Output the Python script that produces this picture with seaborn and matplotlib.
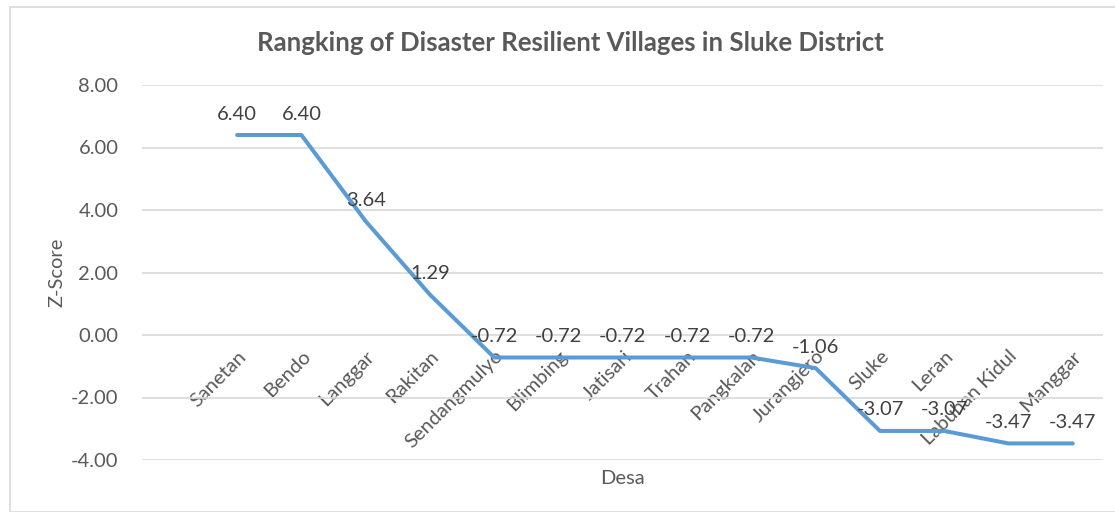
import matplotlib
matplotlib.use("Agg")
import matplotlib.pyplot as plt
import seaborn as sns
import pandas as pd
from matplotlib.patches import Rectangle

# Village ranking data (Z-score)
desa = ["Sanetan", "Bendo", "Langgar", "Rakitan", "Sendangmulyo", "Blimbing",
        "Jatisari", "Trahan", "Pangkalan", "Jurangjero", "Sluke", "Leran",
        "Labuhan Kidul", "Manggar"]
z_score = [6.40, 6.40, 3.64, 1.29, -0.72, -0.72, -0.72, -0.72, -0.72,
           -1.06, -3.07, -3.07, -3.47, -3.47]
y_ticks = [-4, -2, 0, 2, 4, 6, 8]

df = pd.DataFrame({"Desa": desa, "Z-Score": z_score})

sns.set_style("white")
plt.rcParams["font.family"] = ["Lato", "DejaVu Sans"]
text_color = "#595959"
fs = 14.5

fig = plt.figure(figsize=(11.15, 5.12), dpi=100)
ax = fig.add_axes([142 / 1115, 52 / 512, (1103 - 142) / 1115, (460 - 85) / 512])

# chart border
fig.patches.append(Rectangle((10 / 1115, 0), 1.2, 505 / 512, transform=fig.transFigure,
                             fill=False, edgecolor="#D9D9D9", linewidth=1.2))

df["pos"] = range(len(df))
sns.lineplot(data=df, x="pos", y="Z-Score", ax=ax, color="#5B9BD5",
             linewidth=2.9, sort=False)

for i, v in enumerate(z_score):
    ax.annotate(f"{v:.2f}", (i, v), xytext=(0, 9), textcoords="offset points",
                ha="center", va="bottom", fontsize=fs, color="#404040")

# category axis crosses at zero (set before labels, it resets the ticks)
ax.spines["bottom"].set_position(("data", 0))
for s in ax.spines.values():
    s.set_visible(False)

ax.set_ylim(-4, 8)
ax.set_xlim(-1.48, 13.47)
ax.set_yticks(y_ticks)
ax.set_yticklabels([f"{t:.2f}" for t in y_ticks], fontsize=fs, color=text_color)
ax.yaxis.grid(True, color="#D9D9D9", linewidth=1.2)
ax.set_axisbelow(True)

ax.set_xticks(range(len(desa)))
ax.set_xticklabels(desa, rotation=45, ha="right", rotation_mode="anchor",
                   fontsize=fs, color=text_color)
ax.tick_params(axis="both", length=0)
ax.tick_params(axis="x", pad=9)
ax.tick_params(axis="y", pad=17)

ax.set_xlabel("")
ax.set_ylabel("Z-Score", fontsize=fs, color=text_color, labelpad=4)
fig.text(622 / 1115, 1 - 478 / 512, "Desa", ha="center", va="center",
         fontsize=fs, color=text_color)
fig.text(570 / 1115, 1 - 43 / 512, "Rangking of Disaster Resilient Villages in Sluke District",
         ha="center", va="center", fontsize=18.5, fontweight="bold", color=text_color)

fig.savefig("out.png", dpi=100)
